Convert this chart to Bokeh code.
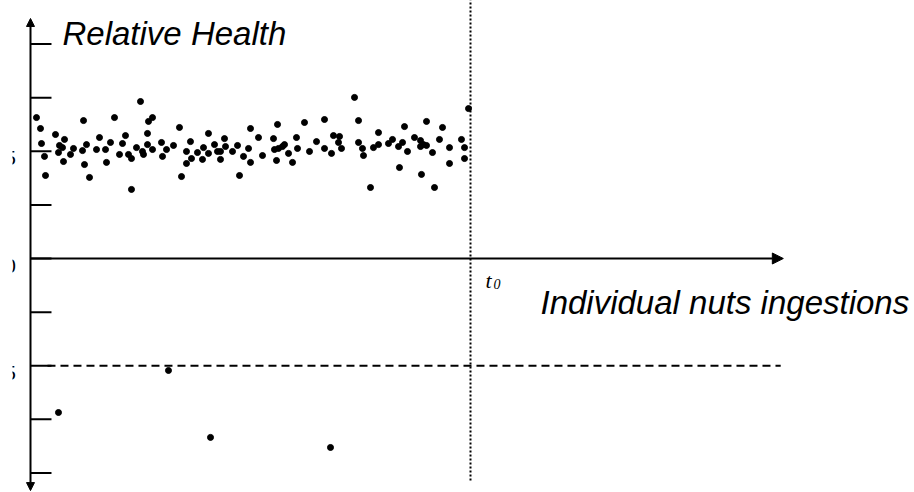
from bokeh.plotting import figure
from bokeh.models import Range1d, Arrow, NormalHead
from bokeh.core.properties import value
from bokeh.embed import file_html
from bokeh.resources import INLINE

# ---- data ----
ingestion = [1.36, 2.27, 2.5, 3.18, 3.41, 5.68, 6.36, 6.59, 7.27, 7.5, 7.73, 9.09, 9.77,
             11.82, 12.05, 12.27, 12.73, 13.41, 15.0, 15.68, 17.05, 17.27, 18.18, 19.09,
             20.23, 20.91, 21.59, 22.27, 22.95, 22.95, 24.09, 25.0, 25.45, 25.68, 26.59,
             26.59, 26.82, 27.73, 27.73, 29.77, 30.0, 30.91, 32.5, 33.86, 34.32, 35.45,
             35.45, 36.36, 36.59, 37.95, 39.09, 39.32, 40.45, 40.45, 41.82, 42.5, 43.18,
             43.18, 44.09, 44.32, 45.91, 47.05, 47.5, 48.41, 49.55, 50.0, 50.0, 51.82,
             52.73, 55.23, 55.45, 55.91, 56.14, 56.36, 57.27, 57.73, 58.64, 59.55, 60.45,
             60.68, 62.27, 63.41, 65.0, 66.82, 66.82, 68.41, 68.86, 70.0, 70.23, 70.68,
             73.64, 74.55, 74.55, 75.45, 75.68, 77.27, 77.95, 79.09, 79.09, 81.36, 82.27,
             83.64, 83.86, 84.55, 85.0, 85.68, 87.27, 88.64, 88.64, 88.86, 89.32, 90.0,
             90.0, 91.36, 91.82, 92.95, 93.64, 95.23, 95.23, 97.95, 98.64, 98.64, 99.55]
health = [0.657, 0.606, 0.536, 0.476, 0.387, 0.578, 0.494, 0.527, 0.517, 0.452, 0.555, 0.485,
          0.513, 0.503, 0.643, 0.438, 0.531, 0.378, 0.508, 0.564, 0.508, 0.448, 0.541, 0.657,
          0.485, 0.536, 0.573, 0.485, 0.466, 0.322, 0.517, 0.732, 0.499, 0.485, 0.583,
          0.531, 0.639, 0.657, 0.508, 0.541, 0.476, 0.508, 0.527, 0.611, 0.382, 0.499,
          0.443, 0.545, 0.466, 0.494, 0.462, 0.517, 0.583, 0.490, 0.531, 0.499, 0.499,
          0.462, 0.559, 0.522, 0.499, 0.527, 0.387, 0.476, 0.513, 0.606, 0.448, 0.564,
          0.480, 0.559, 0.508, 0.457, 0.625, 0.513, 0.522, 0.531, 0.490, 0.448, 0.564,
          0.513, 0.634, 0.499, 0.545, 0.648, 0.513, 0.490, 0.573, 0.541, 0.569, 0.513,
          0.751, 0.643, 0.541, 0.513, 0.480, 0.331, 0.517, 0.587, 0.531, 0.536, 0.555,
          0.522, 0.424, 0.541, 0.615, 0.499, 0.564, 0.550, 0.522, 0.392, 0.531, 0.527,
          0.639, 0.494, 0.331, 0.555, 0.611, 0.517, 0.443, 0.555, 0.517, 0.466, 0.699]

low_ingestion = [6.36, 31.36, 40.91, 68.18]
low_health = [-0.718, -0.522, -0.834, -0.881]

tick_values = [1.0, 0.75, 0.5, 0.25, 0.0, -0.25, -0.5, -0.75, -1.0]
label_values = [0.5, 0.0, -0.5]
label_texts = ["0.5", "0", "-0.5"]

t0 = 100.0
threshold = -0.5
x_axis_end = 171.1
dash_start, dash_end = 3.86, 170.5
y_axis_top, y_axis_bottom = 1.119, -1.082
tick_len = 4.77

# ---- figure ----
p = figure(width=914, height=492,
           x_range=Range1d(-4.0909, 200.909), y_range=Range1d(-1.09091, 1.20280),
           x_axis_location=None, y_axis_location=None,
           output_backend="svg", toolbar_location=None,
           min_border=0, min_border_left=12)
p.grid.visible = False
p.outline_line_color = None
p.background_fill_color = "white"
p.border_fill_color = "white"

# t0 dotted vertical line
p.segment(x0=[t0], y0=[1.25], x1=[t0], y1=[-1.035],
          line_color="black", line_width=2, line_dash="2 2")

# threshold dashed horizontal line
p.segment(x0=[dash_start], y0=[threshold], x1=[dash_end], y1=[threshold],
          line_color="black", line_width=2, line_dash="8 5")

# ticks
p.segment(x0=[0] * len(tick_values), y0=tick_values,
          x1=[tick_len] * len(tick_values), y1=tick_values,
          line_color="black", line_width=2)

# axes with arrows
p.add_layout(Arrow(end=NormalHead(size=11, fill_color="black", line_color="black"),
                   x_start=0, y_start=0, x_end=x_axis_end, y_end=0,
                   line_color="black", line_width=2))
p.add_layout(Arrow(start=NormalHead(size=8, fill_color="black", line_color="black"),
                   end=NormalHead(size=8, fill_color="black", line_color="black"),
                   x_start=0, y_start=y_axis_bottom, x_end=0, y_end=y_axis_top,
                   line_color="black", line_width=2))

# points
p.scatter(ingestion, health, size=6, marker="circle", color="black")
p.scatter(low_ingestion, low_health, size=6, marker="circle", color="black")

# tick labels, cut by the left edge as in the original
p.text(x=[-3.3] * len(label_values), y=label_values, text=label_texts,
       text_align="right", text_baseline="middle", y_offset=7,
       text_font=value("Liberation Sans"), text_font_size="21px", text_color="black")

# titles
p.text(x=[7.27], y=[1.049], text=["Relative Health"],
       text_font=value("Liberation Sans"), text_font_style="italic",
       text_font_size="33px", text_baseline="alphabetic", text_color="black")
p.text(x=[115.9], y=[-0.205], text=["Individual nuts ingestions"],
       text_font=value("Liberation Sans"), text_font_style="italic",
       text_font_size="33px", text_baseline="alphabetic", text_color="black")
p.text(x=[103.4], y=[-0.103], text=["t"],
       text_font=value("Liberation Serif"), text_font_style="italic",
       text_font_size="22px", text_baseline="alphabetic", text_color="black")
p.text(x=[105.2], y=[-0.117], text=["0"],
       text_font=value("Liberation Serif"), text_font_style="italic",
       text_font_size="14px", text_baseline="alphabetic", text_color="black")

open("out.html", "w").write(file_html(p, INLINE))
